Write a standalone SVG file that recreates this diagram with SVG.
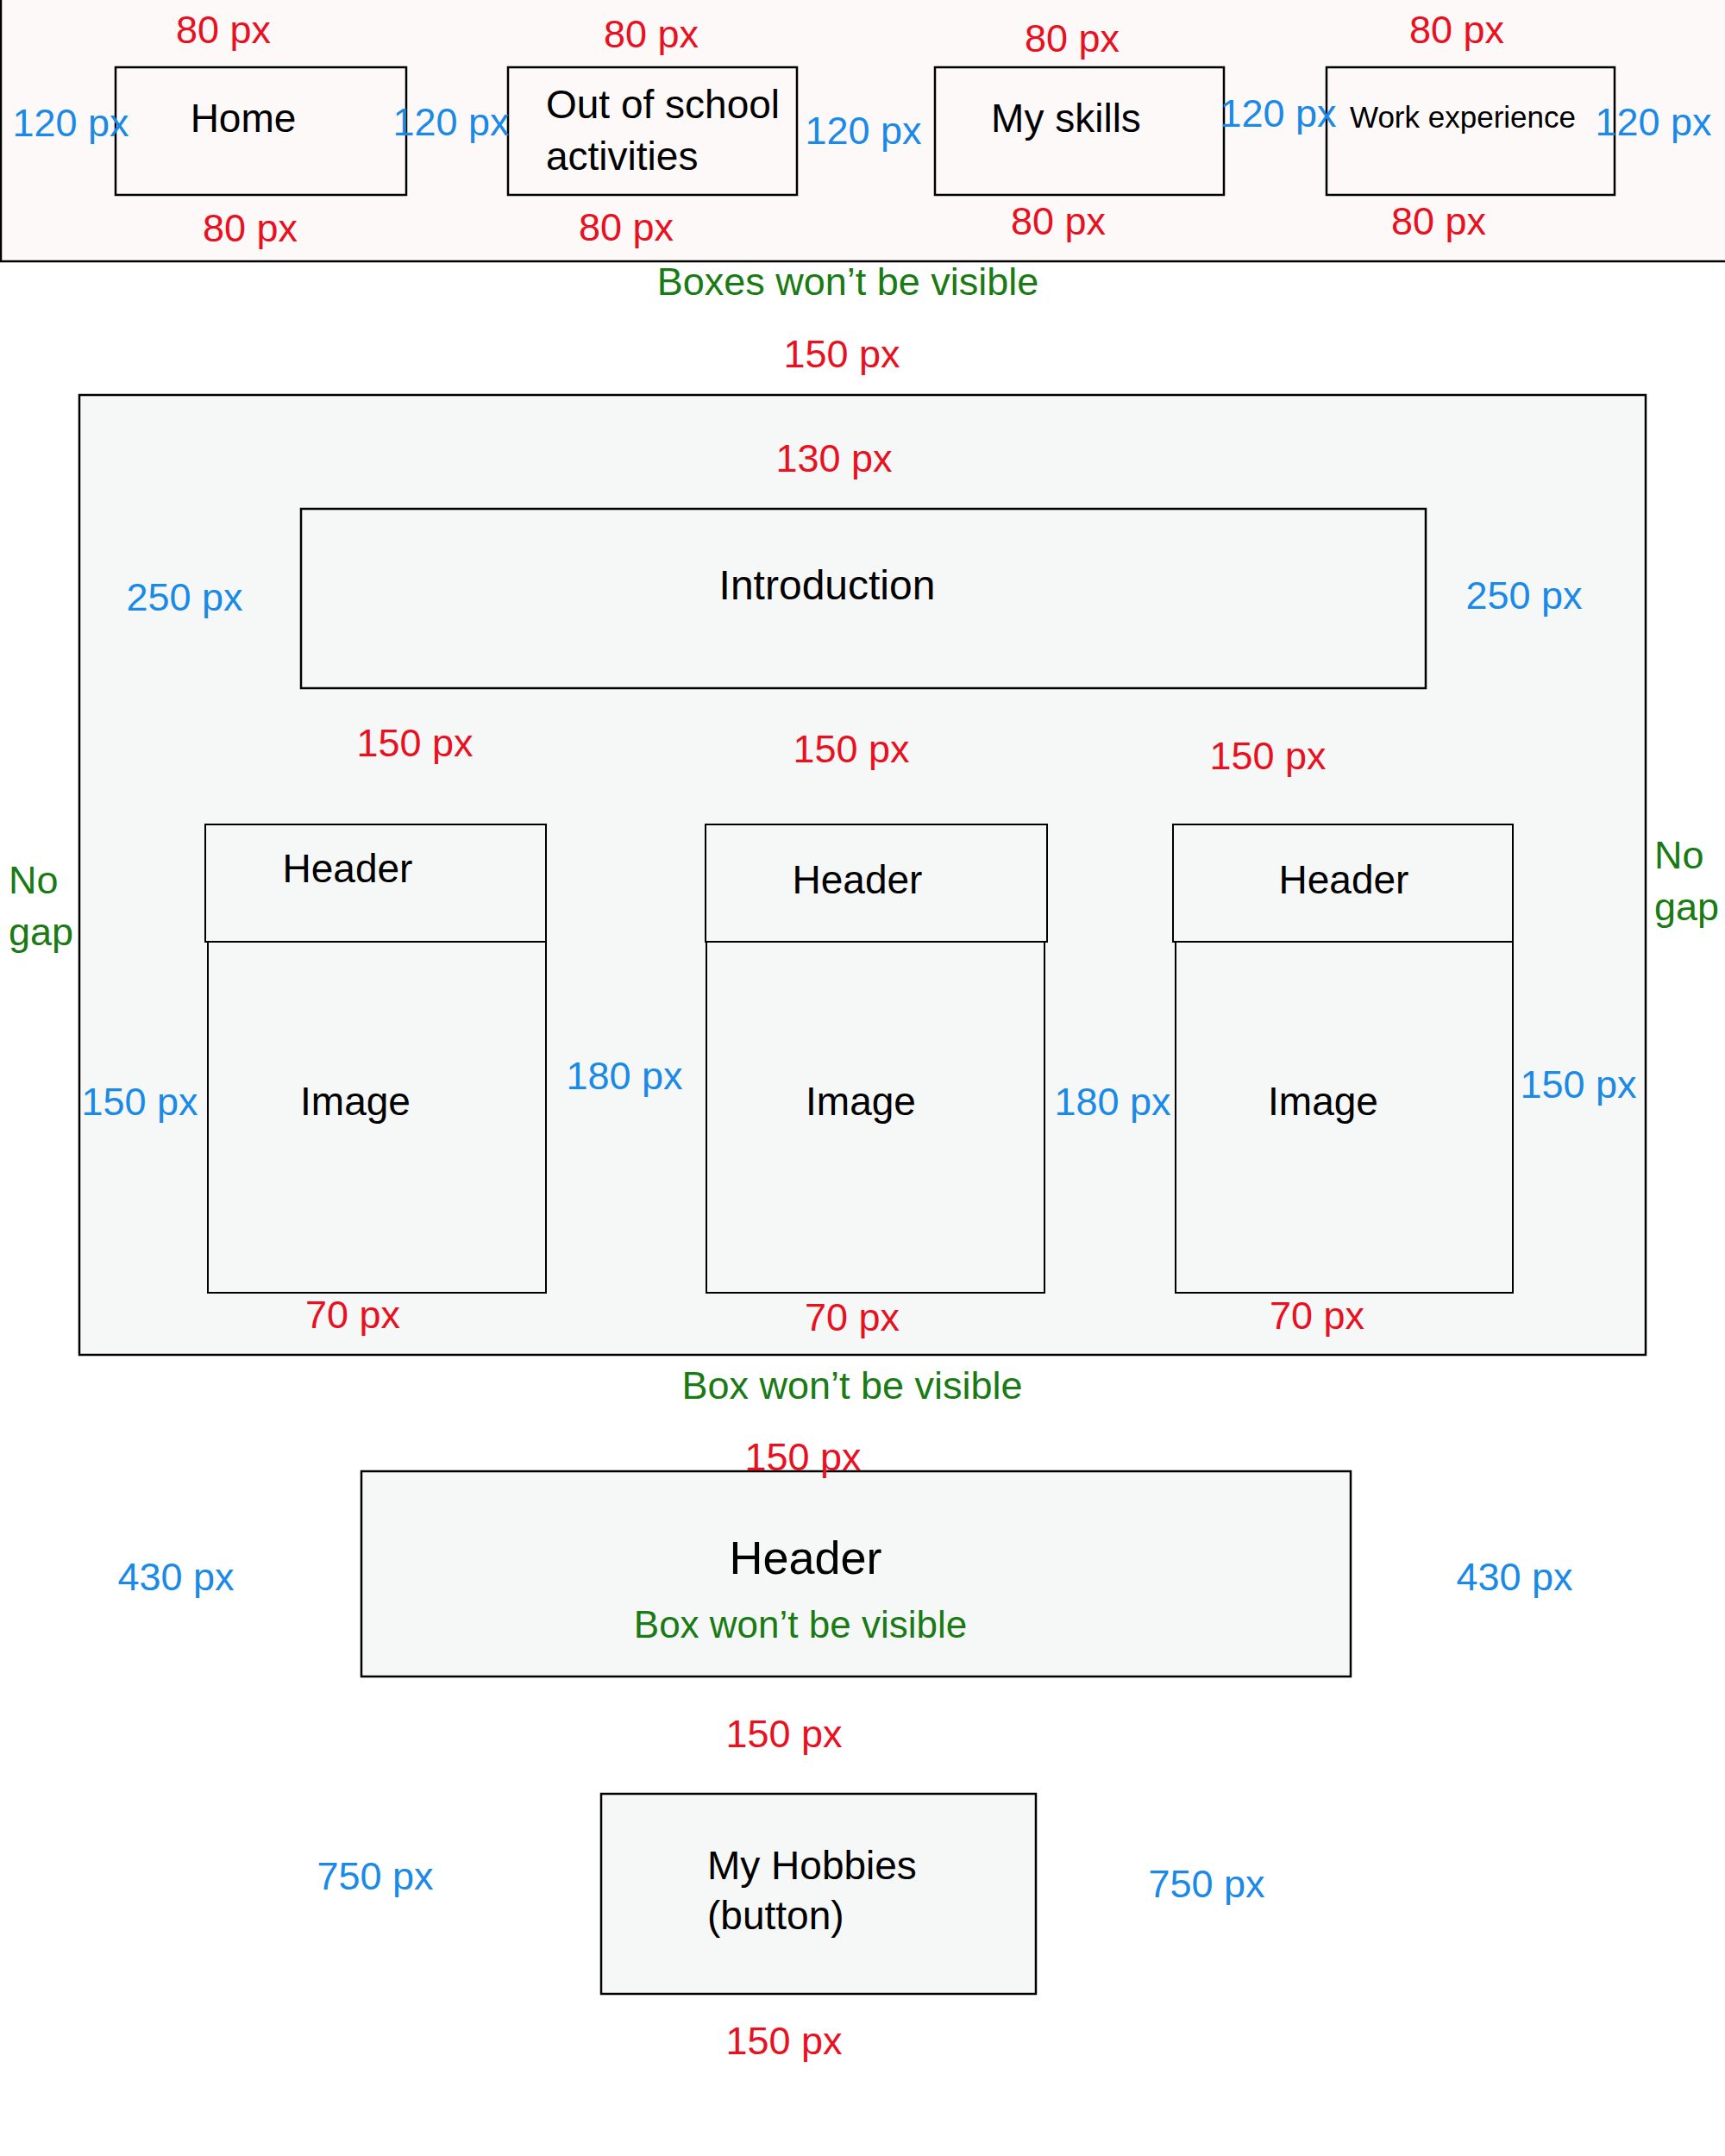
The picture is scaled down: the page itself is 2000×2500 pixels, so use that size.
<svg xmlns="http://www.w3.org/2000/svg" width="2000" height="2500" viewBox="0 0 2000 2500">
<style>
text{font-family:"Liberation Sans",Arial,sans-serif;font-size:45px;}
.r{fill:#e8111f;text-anchor:middle;}
.b{fill:#1a8ae6;text-anchor:middle;}
.g{fill:#1a7a14;}
.gm{fill:#1a7a14;text-anchor:middle;}
.k{fill:#000;}
.km{fill:#000;text-anchor:middle;}
text.s35{font-size:35px;}
text.s44{font-size:44px;}
text.s46{font-size:46px;}
text.s48{font-size:48px;}
text.s54{font-size:54px;}
.box{fill:none;stroke:#000;stroke-width:2.5;}
.cbox{fill:none;stroke:#000;stroke-width:2;}
</style>
<rect width="2000" height="2500" fill="#ffffff"/>

<g id="nav-panel">
<rect x="1" y="-4" width="2005" height="307" fill="#fdf9f9" stroke="#000" stroke-width="2.5"/>
<text class="gm" x="983" y="342">Boxes won’t be visible</text>
</g>

<g id="nav-home">
<rect class="box" x="134" y="78" width="337" height="148"/>
<text class="km s46" x="282" y="153">Home</text>
<text class="r" x="259" y="50">80 px</text>
<text class="r" x="290" y="280">80 px</text>
<text class="b" x="82" y="158">120 px</text>
</g>

<g id="nav-outofschool">
<rect class="box" x="589" y="78" width="335" height="148"/>
<text class="k s46" x="633" y="137">Out of school</text>
<text class="k s46" x="633" y="197">activities</text>
<text class="r" x="755" y="55">80 px</text>
<text class="r" x="726" y="279">80 px</text>
<text class="b" x="523" y="157">120 px</text>
</g>

<g id="nav-skills">
<rect class="box" x="1084" y="78" width="335" height="148"/>
<text class="km s46" x="1236" y="153">My skills</text>
<text class="r" x="1243" y="60">80 px</text>
<text class="r" x="1227" y="272">80 px</text>
<text class="b" x="1001" y="167">120 px</text>
</g>

<g id="nav-work">
<rect class="box" x="1538" y="78" width="334" height="148"/>
<text class="km s35" x="1696" y="148">Work experience</text>
<text class="r" x="1689" y="50">80 px</text>
<text class="r" x="1668" y="272">80 px</text>
<text class="b" x="1482" y="147">120 px</text>
<text class="b" x="1917" y="157">120 px</text>
</g>

<g id="main-panel">
<text class="r" x="976" y="426">150 px</text>
<rect x="92" y="458" width="1816" height="1113" fill="#f6f8f8" stroke="#000" stroke-width="2.5"/>
<text class="r" x="967" y="547">130 px</text>
<text class="g" x="10" y="1036">No</text>
<text class="g" x="10" y="1096">gap</text>
<text class="g" x="1918" y="1007">No</text>
<text class="g" x="1918" y="1067">gap</text>
<text class="gm" x="988" y="1622">Box won’t be visible</text>
</g>

<g id="introduction">
<rect class="box" x="349" y="590" width="1304" height="208"/>
<text class="km s48" x="959" y="695">Introduction</text>
<text class="b" x="214" y="708">250 px</text>
<text class="b" x="1767" y="706">250 px</text>
</g>

<g id="card1">
<rect class="cbox" x="238" y="956" width="395" height="136"/>
<rect class="cbox" x="241" y="1092" width="392" height="407"/>
<text class="km s46" x="403" y="1023">Header</text>
<text class="km s46" x="412" y="1293">Image</text>
<text class="r" x="481" y="877">150 px</text>
<text class="b" x="162" y="1293">150 px</text>
<text class="r" x="409" y="1540">70 px</text>
</g>

<g id="card2">
<rect class="cbox" x="818" y="956" width="396" height="136"/>
<rect class="cbox" x="819" y="1092" width="392" height="407"/>
<text class="km s46" x="994" y="1036">Header</text>
<text class="km s46" x="998" y="1293">Image</text>
<text class="r" x="987" y="884">150 px</text>
<text class="b" x="724" y="1263">180 px</text>
<text class="r" x="988" y="1543">70 px</text>
</g>

<g id="card3">
<rect class="cbox" x="1360" y="956" width="394" height="136"/>
<rect class="cbox" x="1363" y="1092" width="391" height="407"/>
<text class="km s46" x="1558" y="1036">Header</text>
<text class="km s46" x="1534" y="1293">Image</text>
<text class="r" x="1470" y="892">150 px</text>
<text class="b" x="1290" y="1293">180 px</text>
<text class="b" x="1830" y="1273">150 px</text>
<text class="r" x="1527" y="1541">70 px</text>
</g>

<g id="header-section">
<rect x="419" y="1706" width="1147" height="238" fill="#f6f8f8" stroke="#000" stroke-width="2.5"/>
<text class="r" x="931" y="1705">150 px</text>
<text class="km s54" x="934" y="1825">Header</text>
<text class="gm s44" x="928" y="1899">Box won’t be visible</text>
<text class="b" x="204" y="1844">430 px</text>
<text class="b" x="1756" y="1844">430 px</text>
<text class="r" x="909" y="2026">150 px</text>
</g>

<g id="hobbies-button">
<rect x="697" y="2080" width="504" height="232" fill="#f6f8f8" stroke="#000" stroke-width="2.5"/>
<text class="k s46" x="820" y="2179">My Hobbies</text>
<text class="k s46" x="820" y="2237">(button)</text>
<text class="b" x="435" y="2191">750 px</text>
<text class="b" x="1399" y="2200">750 px</text>
<text class="r" x="909" y="2382">150 px</text>
</g>
</svg>
